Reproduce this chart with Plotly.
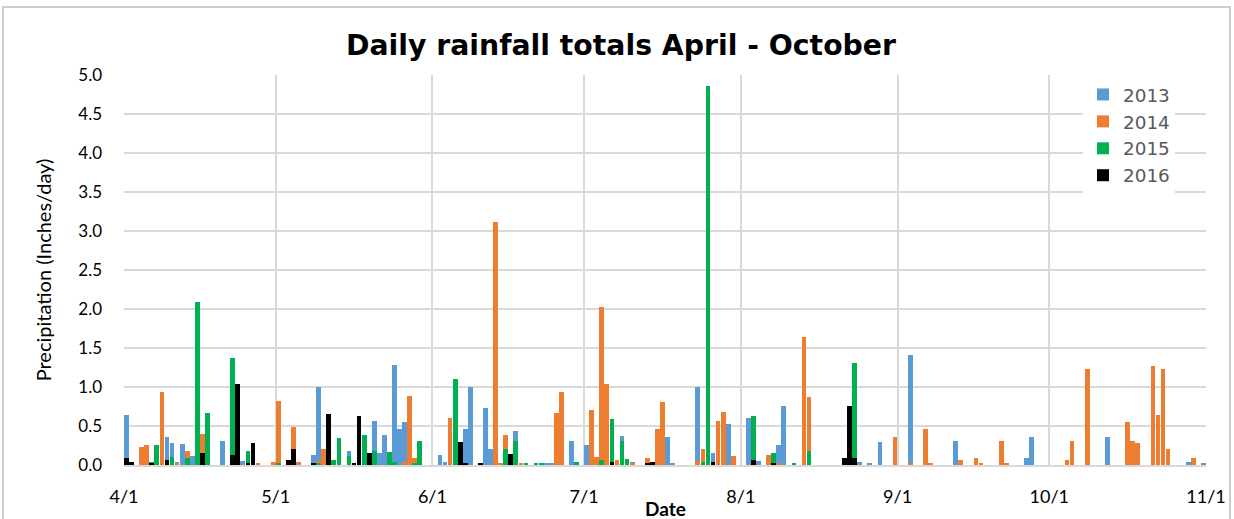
import plotly.graph_objects as go

# ---------------- data (month-day, inches/day) ----------------
dates_2013 = ["04-01","04-09","04-10","04-11","04-12","04-14","04-20","04-24","05-08","05-09",
              "05-15","05-20","05-21","05-22","05-24","05-25","05-26","06-02","06-03","06-07",
              "06-08","06-11","06-12","06-17","06-23","06-24","06-28","07-01","07-08","07-10",
              "07-17","07-18","07-23","07-26","07-29","08-02","08-04","08-08","08-09","08-24",
              "08-26","08-28","09-03","09-12","09-26","09-27","10-12","10-28","10-31"]
vals_2013 = [0.64,0.355,0.28,0.04,0.27,0.115,0.31,0.055,0.13,1.0,
             0.18,0.57,0.15,0.385,1.28,0.46,0.555,0.13,0.04,0.457,
             1.0,0.73,0.21,0.43,0.03,0.02,0.31,0.256,0.37,0.04,
             0.355,0.02,1.0,0.16,0.525,0.6,0.055,0.256,0.756,0.04,
             0.02,0.3,1.406,0.31,0.085,0.355,0.355,0.04,0.02]

dates_2014 = ["04-04","04-05","04-08","04-11","04-13","04-16","04-27","04-30","05-01","05-04",
              "05-05","05-09","05-10","05-26","05-27","05-28","06-04","06-13","06-14","06-15",
              "06-18","06-25","06-26","07-02","07-03","07-04","07-05","07-07","07-10","07-13",
              "07-15","07-16","07-23","07-24","07-27","07-28","07-30","08-06","08-08","08-13",
              "08-14","08-31","09-03","09-06","09-07","09-13","09-16","09-17","09-21","09-22",
              "10-04","10-05","10-08","10-16","10-17","10-18","10-21","10-22","10-23","10-24",
              "10-29"]
vals_2014 = [0.235,0.256,0.94,0.03,0.18,0.40,0.03,0.04,0.825,0.49,
             0.04,0.05,0.20,0.04,0.89,0.085,0.60,3.12,0.02,0.385,
             0.02,0.67,0.94,0.70,0.10,2.02,1.04,0.07,0.02,0.085,
             0.457,0.81,0.055,0.21,0.57,0.68,0.115,0.13,0.02,1.637,
             0.87,0.355,0.02,0.457,0.03,0.07,0.085,0.02,0.31,0.02,
             0.06,0.31,1.235,0.556,0.31,0.28,1.265,0.64,1.235,0.21,
             0.085]

dates_2015 = ["04-06","04-07","04-10","04-13","04-15","04-17","04-22","04-25","05-01","05-09",
              "05-12","05-13","05-15","05-18","05-20","05-23","05-24","05-28","05-29","06-05",
              "06-15","06-17","06-19","06-21","06-22","06-29","07-04","07-06","07-08","07-09",
              "07-24","07-25","08-03","08-07","08-11","08-14","08-23"]
vals_2015 = [0.04,0.256,0.10,0.085,2.085,0.67,1.376,0.18,0.02,0.02,
             0.07,0.34,0.115,0.385,0.18,0.17,0.04,0.02,0.31,1.10,
             0.21,0.31,0.02,0.02,0.02,0.04,0.07,0.585,0.31,0.08,
             0.04,4.86,0.63,0.16,0.02,0.18,1.31]

dates_2016 = ["04-01","04-02","04-06","04-09","04-16","04-22","04-23","04-25","04-26","05-03",
              "05-04","05-08","05-11","05-16","05-17","05-19","06-06","06-07","06-10","06-16",
              "07-06","07-13","07-14","07-26","08-03","08-07","08-21","08-22","08-23"]
vals_2016 = [0.085,0.04,0.025,0.06,0.16,0.13,1.034,0.02,0.28,0.07,
             0.21,0.02,0.65,0.03,0.63,0.16,0.30,0.02,0.02,0.14,
             0.04,0.02,0.04,0.04,0.07,0.02,0.085,0.756,0.085]

month_ticks = ["04-01","05-01","06-01","07-01","08-01","09-01","10-01","11-01"]
tick_labels = ["4/1","5/1","6/1","7/1","8/1","9/1","10/1","11/1"]

series = [("2013", dates_2013, vals_2013, "#5B9BD5"),
          ("2014", dates_2014, vals_2014, "#ED7D31"),
          ("2015", dates_2015, vals_2015, "#00B050"),
          ("2016", dates_2016, vals_2016, "#000000")]

YEAR = "2016"
DAY_MS = 86400000

fig = go.Figure()
for name, d, v, c in series:
    fig.add_trace(go.Bar(
        x=[f"{YEAR}-{md} 12:00" for md in d], y=v, name=name,
        marker=dict(color=c, line=dict(width=0)),
        width=DAY_MS * 0.94,
    ))

W, H = 1234, 519
L, R, T, B = 124, 28, 75, 54
pw, ph = W - L - R, H - T - B

def px(xp):
    return (xp - L) / pw

def py(yp):
    return (H - B - yp) / ph

FONT = "Lato"
fig.update_layout(
    width=W, height=H,
    margin=dict(l=L, r=R, t=T, b=B, autoexpand=False),
    paper_bgcolor="white", plot_bgcolor="white",
    barmode="overlay", bargap=0,
    title=dict(text="<b>Daily rainfall totals April - October</b>",
               x=621 / W, xanchor="center", y=1 - 45 / H, yanchor="middle",
               font=dict(family="DejaVu Sans", size=28.3, color="#000000")),
    legend=dict(x=px(1083), y=py(76), xanchor="left", yanchor="top",
                bgcolor="white", font=dict(family="DejaVu Sans", size=18.4, color="#595959"),
                itemsizing="constant"),
    font=dict(family=FONT, color="#000000"),
    shapes=[
        dict(type="rect", xref="paper", yref="paper",
             x0=px(3), x1=px(1230), y0=py(H + 5), y1=py(7),
             line=dict(color="#bfbfbf", width=1.5), layer="below"),
    ],
    annotations=[
        dict(text="<b>Date</b>", xref="paper", yref="paper", x=0.5, y=py(508),
             xanchor="center", yanchor="middle", showarrow=False,
             font=dict(family=FONT, size=19, color="#000000")),
    ],
)
fig.update_xaxes(
    type="date", range=[f"{YEAR}-04-01", f"{YEAR}-11-01"],
    tickvals=[f"{YEAR}-{m}" for m in month_ticks], ticktext=tick_labels,
    showgrid=True, gridcolor="#d9d9d9", gridwidth=1.5,
    showline=True, linecolor="#d9d9d9", linewidth=1.5,
    ticks="", ticklabelstandoff=15, automargin=False,
    tickfont=dict(family=FONT, size=18, color="#000000"),
    zeroline=False,
)
fig.update_yaxes(
    range=[0, 5], dtick=0.5, tickformat=".1f",
    showgrid=True, gridcolor="#d9d9d9", gridwidth=1.5,
    zeroline=False, ticks="", ticklabelstandoff=21, automargin=False,
    tickfont=dict(family=FONT, size=17, color="#000000"),
    title=dict(text="Precipitation (Inches/day)", font=dict(family=FONT, size=20, color="#000000"), standoff=21),
)

fig.write_html("out.html", config={"displayModeBar": False},
               post_script="document.body.style.margin='0';document.body.style.overflow='hidden';")
